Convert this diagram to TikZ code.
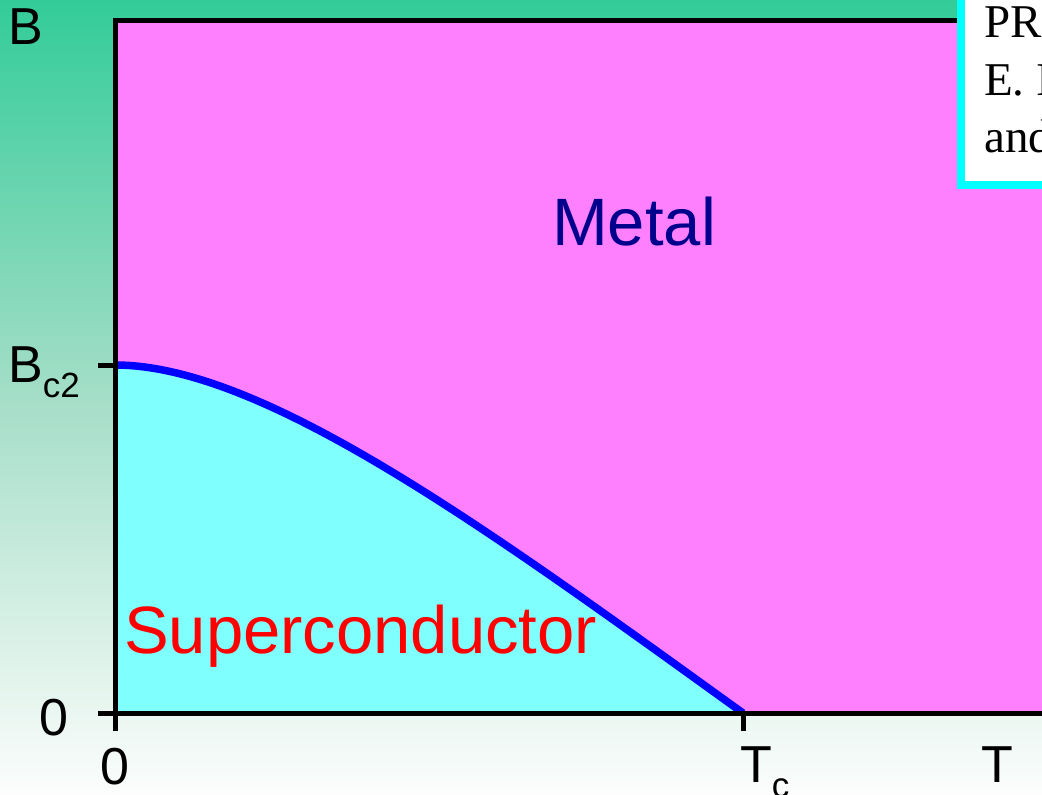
\documentclass[tikz,border=0pt]{standalone}
\usepackage{fontspec}
\setmainfont{Liberation Sans}
\newfontfamily\refserif{Liberation Serif}
\definecolor{bgtop}{RGB}{51,204,153}
\definecolor{bgmid}{RGB}{165,222,200}
\definecolor{bgbot}{RGB}{252,253,252}
\definecolor{metalpink}{RGB}{255,128,255}
\definecolor{supcyan}{RGB}{128,255,255}
\definecolor{boxcyan}{RGB}{0,255,255}
\definecolor{metalblue}{RGB}{0,0,140}
\tikzset{
  axisline/.style={line width=5pt, line cap=rect, line join=miter},
  ticklabel/.style={inner sep=0pt, font=\fontsize{52}{52}\selectfont},
  phaselabel/.style={inner sep=0pt, font=\fontsize{67}{67}\selectfont},
  reftext/.style={inner sep=0pt, anchor=base west, font=\refserif\fontsize{47}{47}\selectfont},
  boundary/.style={line width=7.5pt, draw=blue}
}
\begin{document}
\begin{tikzpicture}[x=1pt,y=-1pt]
\useasboundingbox (0,0) rectangle (1042,795);
\clip (0,0) rectangle (1042,795);
% background gradient
\shade[shading=axis, top color=bgtop, bottom color=bgbot, middle color=bgmid, shading angle=0]
  (0,0) rectangle (1042,795);
% key points
\coordinate (origin) at (115,713);
\coordinate (topleft) at (115,20);
\coordinate (topright) at (1050,20);
\coordinate (botright) at (1050,713);
\coordinate (bc2) at (115,365);
\coordinate (tc) at (743,713);
% regions
\fill[metalpink] (topleft) rectangle (botright);
\fill[supcyan] (bc2) .. controls (265,365) and (493,533) .. (tc) -- (origin) -- cycle;
\draw[boundary] (bc2) .. controls (265,365) and (493,533) .. (tc);
% axes
\coordinate (ytickend) at (100,365);
\coordinate (xaxisstart) at (100,713);
\coordinate (yaxisend) at (115,728);
\coordinate (tctickend) at (743,728);
\draw[axisline] (yaxisend) -- (topleft) -- (topright);
\draw[axisline] (xaxisstart) -- (botright);
\draw[axisline] (ytickend) -- (bc2);
\draw[axisline] (tc) -- (tctickend);
% reference box
\draw[line width=8pt, draw=boxcyan, fill=white] (961,-20) rectangle (1080,184.5);
\node[reftext] (ref1) at (984,37) {PR};
\node[reftext] (ref2) at (984,95) {E. I};
\node[reftext] (ref3) at (984,152) {and};
% axis labels
\node[ticklabel, anchor=base west] (lblB) at (8,45) {B};
\node[ticklabel, anchor=base west] (lblBc) at (8,382) {B\raisebox{-15pt}{\fontsize{35}{35}\selectfont c2}};
\node[ticklabel, anchor=base] (lblzeroy) at (54,735) {0};
\node[ticklabel, anchor=base] (lblzerox) at (115,784) {0};
\node[ticklabel, anchor=base west] (lblTc) at (740,782) {T\raisebox{-15pt}{\fontsize{35}{35}\selectfont c}};
\node[ticklabel, anchor=base] (lblT) at (997,782) {T};
% phase labels
\node[phaselabel, anchor=base, text=metalblue] (metal) at (634,245) {Metal};
\node[phaselabel, anchor=base west, text=red] (sc) at (124,653) {Superconductor};
\end{tikzpicture}
\end{document}
